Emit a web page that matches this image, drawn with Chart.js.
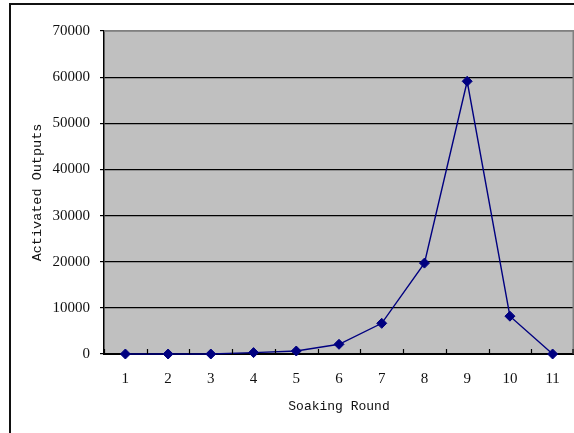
<!DOCTYPE html>
<html>
<head>
<meta charset="utf-8">
<script src="https://cdn.jsdelivr.net/npm/chart.js@4/dist/chart.umd.min.js"></script>
<style>
  html, body { margin: 0; padding: 0; background: #fff; }
  #wrap { width: 574px; height: 433px; position: relative; }
</style>
</head>
<body>
<div id="wrap"><canvas id="c" width="574" height="433"></canvas></div>
<script>
// Soaking rounds and the activated outputs counted in each round
const rounds = ['1', '2', '3', '4', '5', '6', '7', '8', '9', '10', '11'];
const outputs = [0, 0, 0, 300, 650, 2100, 6650, 19700, 59100, 8200, 0];

// Value axis range and step
const yMin = 0;
const yMax = 70000;
const yStep = 10000;

const xTitle = 'Soaking Round';
const yTitle = 'Activated Outputs';

const serif = '"Liberation Serif", "DejaVu Serif", serif';
const mono = '"Liberation Mono", "DejaVu Sans Mono", monospace';

// Page frame, grey plot background and the plot's grey top/right edges
const framePlugin = {
  id: 'frame',
  beforeDraw(chart) {
    const { ctx, chartArea: a } = chart;
    ctx.save();
    ctx.fillStyle = '#ffffff';
    ctx.fillRect(0, 0, chart.width, chart.height);
    ctx.fillStyle = '#c0c0c0';
    ctx.fillRect(a.left, a.top, a.right - a.left, a.bottom - a.top);
    ctx.strokeStyle = '#111';
    ctx.lineWidth = 2;
    ctx.beginPath();
    ctx.moveTo(10, chart.height);
    ctx.lineTo(10, 4);
    ctx.lineTo(chart.width, 4);
    ctx.stroke();
    ctx.restore();
  },
  afterDatasetsDraw(chart) {
    const { ctx, chartArea: a, scales: { x } } = chart;
    ctx.save();
    // grey edge along top and right
    ctx.strokeStyle = '#808080';
    ctx.lineWidth = 1.5;
    ctx.beginPath();
    ctx.moveTo(a.left, a.top);
    ctx.lineTo(a.right - 0.75, a.top);
    ctx.lineTo(a.right - 0.75, a.bottom);
    ctx.stroke();
    // inward tick marks between categories
    ctx.strokeStyle = '#000';
    ctx.lineWidth = 1.2;
    ctx.beginPath();
    for (let i = 0; i <= rounds.length; i++) {
      let px = Math.round((x.getPixelForValue(i - 1) + x.getPixelForValue(i)) / 2) + 0.5;
      if (i === rounds.length) px = Math.min(px, a.right - 1);
      ctx.moveTo(px, a.bottom);
      ctx.lineTo(px, a.bottom - 5);
    }
    ctx.stroke();
    ctx.restore();
  }
};

new Chart(document.getElementById('c'), {
  type: 'line',
  data: {
    labels: rounds,
    datasets: [{
      data: outputs,
      borderColor: '#000080',
      backgroundColor: '#000080',
      borderWidth: 1.4,
      pointStyle: 'rectRot',
      pointRadius: 5,
      pointBorderWidth: 1,
      tension: 0,
      clip: false
    }]
  },
  options: {
    responsive: false,
    animation: false,
    devicePixelRatio: 1,
    layout: { autoPadding: false, padding: { top: 31, right: 0, left: 0, bottom: 0 } },
    plugins: {
      legend: { display: false },
      tooltip: { enabled: false },
      title: { display: false }
    },
    scales: {
      x: {
        offset: true,
        grid: { display: false, drawTicks: false, tickLength: 0 },
        border: { display: true, color: '#000', width: 2 },
        ticks: {
          color: '#111',
          font: { family: serif, size: 15 },
          padding: 16,
          maxRotation: 0,
          autoSkip: false
        },
        title: {
          display: true,
          text: xTitle,
          color: '#111',
          font: { family: mono, size: 13 },
          padding: { top: 0, bottom: 19 }
        },
        afterFit(s) {
          s.height = 79;
          s.paddingLeft = 0;
          s.paddingRight = 0;
        }
      },
      y: {
        min: yMin,
        max: yMax,
        grid: {
          color: (c) => (c.tick && c.tick.value === yMax ? '#808080' : '#000'),
          lineWidth: 1.2,
          drawTicks: true,
          tickLength: 4,
          tickColor: '#000'
        },
        border: { display: true, color: '#000', width: 1.5 },
        ticks: {
          stepSize: yStep,
          color: '#111',
          font: { family: serif, size: 15 },
          padding: 10,
          callback: (v) => String(v)
        },
        title: {
          display: true,
          text: yTitle,
          color: '#111',
          font: { family: mono, size: 13.5 },
          padding: { top: 29, bottom: 0 }
        },
        afterFit(s) {
          s.width = 104;
          s.paddingTop = 0;
          s.paddingBottom = 0;
        }
      }
    }
  },
  plugins: [framePlugin]
});
</script>
</body>
</html>
